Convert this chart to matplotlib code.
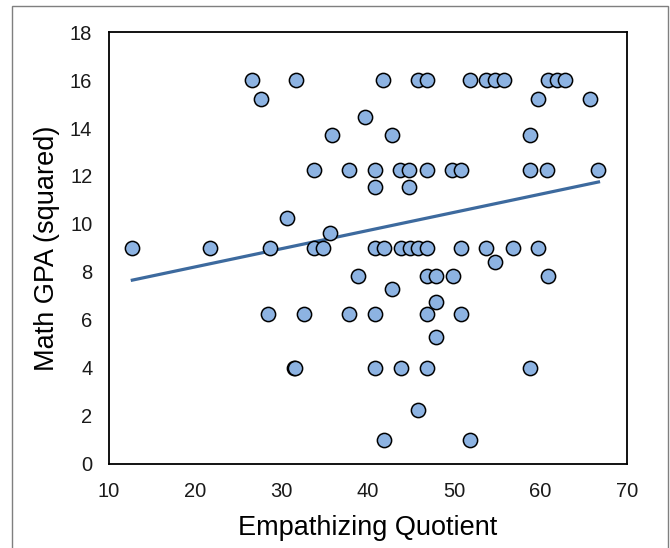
import numpy as np
import matplotlib
matplotlib.use("Agg")
from matplotlib import pyplot as plt
from matplotlib.patches import Rectangle

# Empathizing Quotient (x) and squared math GPA (y)
eq = [26.6, 31.7, 41.7, 45.8, 46.8, 51.8, 53.7, 54.7, 55.8, 60.8, 61.9, 62.8,
      27.6, 59.7, 65.7,
      39.7,
      35.8, 42.8, 58.8,
      33.7, 37.8, 40.8, 43.7, 44.8, 46.8, 49.7, 50.8, 58.8, 60.7, 66.7,
      40.8, 44.8,
      30.65,
      35.6,
      12.7, 21.7, 28.65, 33.7, 34.8, 40.8, 41.8, 43.8, 44.9, 45.8, 46.8, 50.8, 53.7, 56.8, 59.7,
      54.7,
      38.8, 46.8, 47.9, 49.8, 60.8,
      42.8,
      47.9,
      28.45, 32.6, 37.8, 40.8, 46.8, 50.8,
      47.9,
      31.4, 31.6, 40.8, 43.8, 46.8, 58.8,
      45.8,
      41.8, 51.8]
gpa_sq = [16.0] * 12 + [15.21] * 3 + [14.44] + [13.69] * 3 + [12.25] * 11 + \
         [11.56] * 2 + [10.24] + [9.61] + [9.0] * 15 + [8.41] + [7.84] * 5 + \
         [7.29] + [6.76] + [6.25] * 6 + [5.29] + [4.0] * 6 + [2.25] + [1.0] * 2

x_ticks = [10, 20, 30, 40, 50, 60, 70]
y_ticks = [0, 2, 4, 6, 8, 10, 12, 14, 16, 18]

plt.rcParams['font.family'] = ['Liberation Sans', 'DejaVu Sans']

fig = plt.figure(figsize=(6.7, 5.48), dpi=100)
ax = fig.add_axes([0.1627, 0.1533, 0.7731, 0.7883])

# linear trendline
slope, icpt = np.polyfit(eq, gpa_sq, 1)
xs = np.array([min(eq), max(eq)])
ax.plot(xs, slope * xs + icpt, color='#3d6a9e', linewidth=2.3, zorder=2)

ax.scatter(eq, gpa_sq, s=105, color='#8db3e2', edgecolor='black', linewidth=1.1, zorder=3)

ax.set_xlim(10, 70)
ax.set_ylim(0, 18)
ax.set_xticks(x_ticks)
ax.set_yticks(y_ticks)
ax.tick_params(length=0, labelsize=14.5, colors='#1a1a1a')
ax.tick_params(axis='x', pad=13)
ax.tick_params(axis='y', pad=12)
for s in ax.spines.values():
    s.set_linewidth(1.3)
    s.set_color('black')

ax.set_xlabel('Empathizing Quotient', fontsize=19.5, labelpad=10)
ax.set_ylabel('Math GPA (squared)', fontsize=19.5, labelpad=7)

# outer chart frame
fig.patches.append(Rectangle((12 / 670, -0.05), 656 / 670, 1.05 - 6 / 548,
                             transform=fig.transFigure, fill=False,
                             edgecolor='#7f7f7f', linewidth=1.0))

fig.savefig('out.png', dpi=100)
